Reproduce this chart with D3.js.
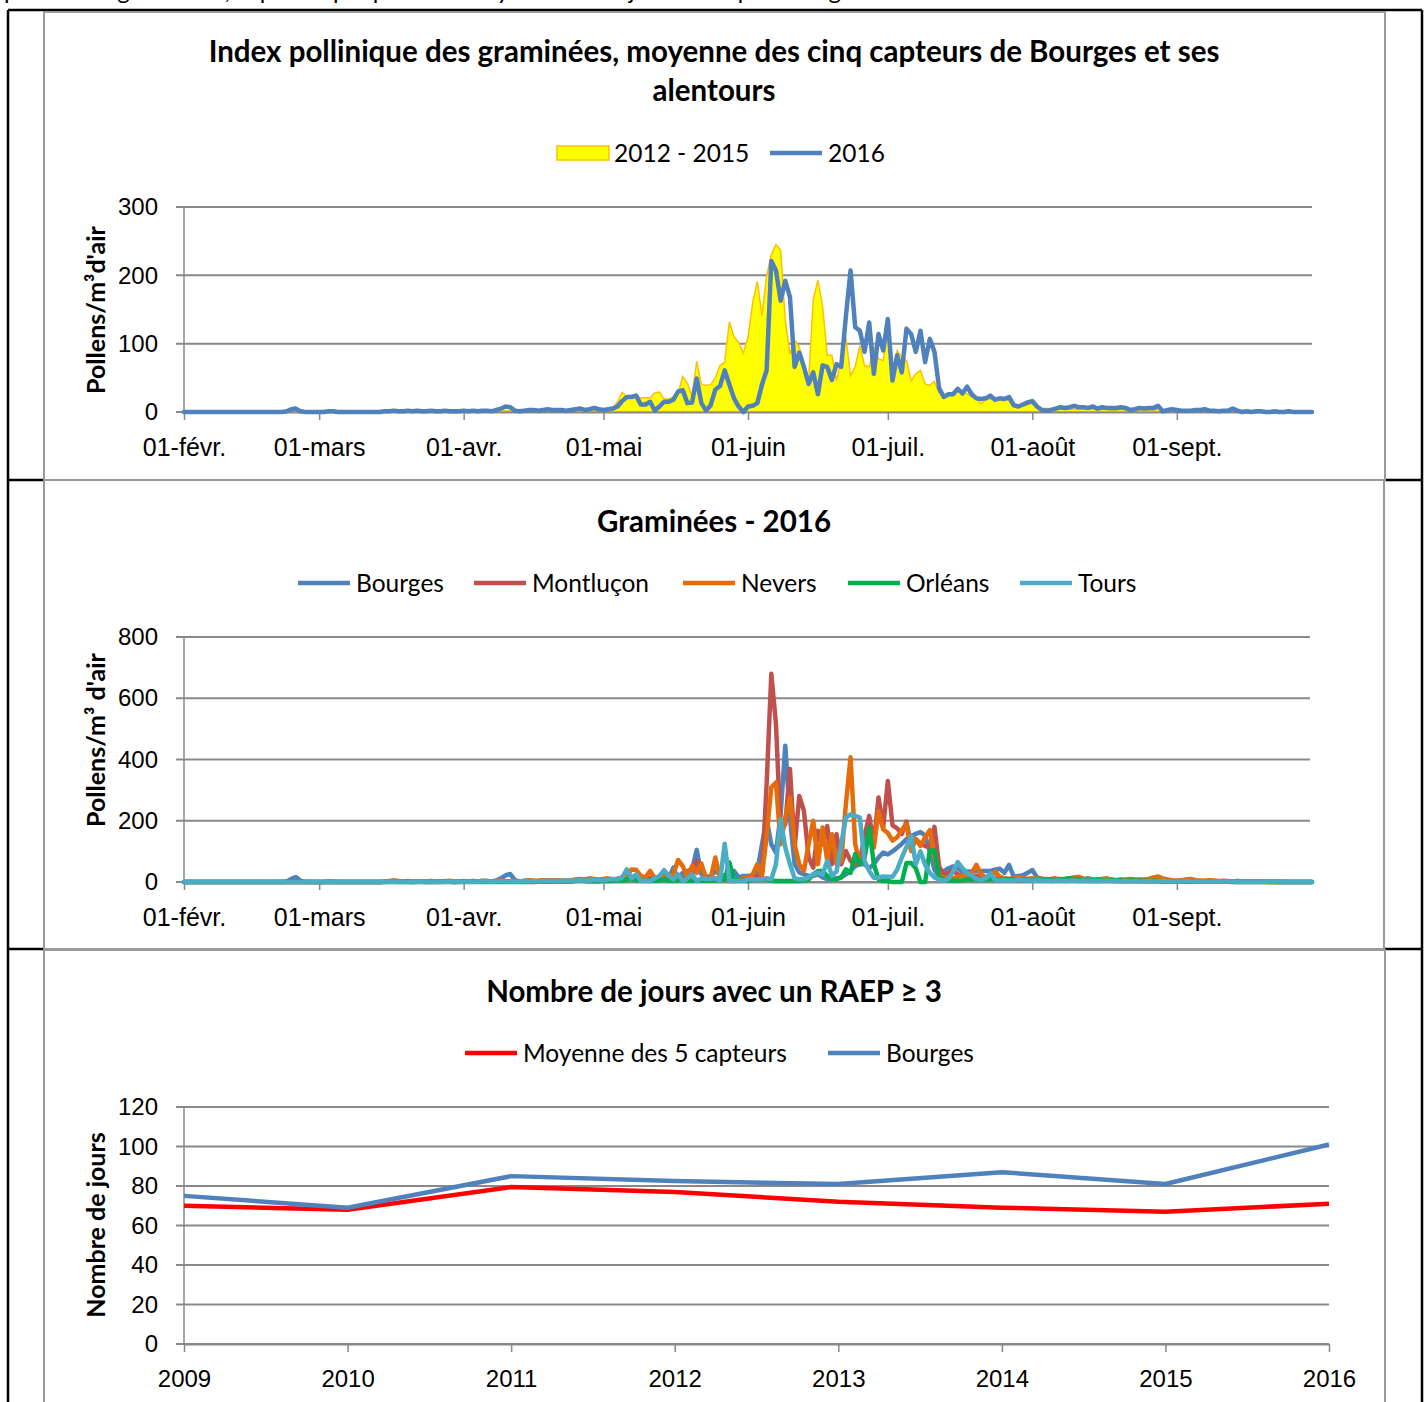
<!DOCTYPE html>
<html>
<head>
<meta charset="utf-8">
<script src="https://cdn.jsdelivr.net/npm/d3@7"></script>
<style>
body { margin: 0; background: #fff; }
svg { display: block; font-family: Lato, "Open Sans", sans-serif; }
</style>
</head>
<body>
<div id="chart"></div>
<script>
// ---- data (daily values from 1 Feb to 30 Sep 2016) ----
const mean1215 = [
  0,0,0,0,0,0,0,0,0,0, 0,0,0,0,0,0,0,0,0,0, 0,0,0,0,0,0,0,0,0,                 // feb
  0,0,0,0,0,0,0,0,0,0, 0,0,0,0,0,0,0,0,0,0, 0,0,0,0,0,0,0,0,0,0, 0,             // mar
  0,0,0,0,0,1,1,1,1,2, 2,2,2,2,2,2,2,3,3,3, 3,3,2,3,3,3,3,3,3,2,                // apr
  2,3,6,15,29,22,23,21,21,21, 21,28,29,19,19,22,27,52,42,24, 74,40,39,40,50,68,73,132,110,102, 86,
  109,160,191,141,199,230,245,237,134,85, 105,95,70,45,165,193,155,83,83,46, 80,109,53,66,97,68,66,95,78,75,
  120,61,90,80,75,46,56,61,41,39, 45,27,24,26,29,32,30,27,22,19, 12,18,19,18,19,18,17,7,8,9, 11,
  12,8,6,5,5,4,4,4,5,4, 4,5,4,4,3,4,4,3,3,4, 3,3,3,4,3,3,3,4,2,2, 2,
  2,2,2,1,2,1,1,1,1,1, 1,1,1,1,0,0,0,0,0,0, 0,0,0,0,0,0,0,0,0,0
];
const mean2016 = [
  0,0,0,0,0,0,0,0,0,0, 0,0,0,0,0,0,0,0,0,0, 0,0,1,4,5,1,0,0,0,
  0,0,1,1,0,0,0,0,0,0, 0,0,0,0,1,1,2,1,1,2, 1,2,1,1,2,1,1,2,1,1, 1,
  2,1,2,1,2,2,1,3,5,8, 7,2,1,2,3,3,2,3,4,3, 3,3,2,3,4,5,3,4,6,4,
  3,4,5,8,16,22,22,24,11,11, 15,2,8,15,15,18,30,32,13,14, 49,13,2,10,33,38,61,40,20,8, 0,
  8,9,13,40,61,221,207,163,192,168, 66,87,66,41,58,26,68,66,47,70, 66,140,207,124,119,88,131,56,114,90,
  136,46,83,58,122,114,88,119,73,107, 88,35,22,26,26,34,27,37,26,20, 19,20,24,18,20,19,22,10,8,11, 14,
  16,8,3,2,3,5,7,6,7,9, 7,7,6,8,5,7,6,6,6,7, 6,3,4,6,5,6,6,9,1,3, 4,
  3,2,2,2,3,3,4,2,2,1, 2,2,5,2,0,1,0,1,1,0, 0,1,0,0,1,0,0,0,0,0
];

const bourges = [
  0,0,0,0,0,0,0,0,0,0, 0,0,0,0,0,0,0,0,0,0, 0,0,2,10,16,4,0,0,0,
  0,0,2,1,0,0,0,0,0,0, 0,0,0,0,1,2,3,1,2,3, 1,2,1,2,3,1,2,3,2,1, 2,
  3,2,3,2,3,3,2,5,12,22, 26,6,2,3,5,4,3,5,6,4, 5,4,3,5,6,8,4,6,9,6,
  5,6,8,10,12,15,10,12,8,10, 12,6,10,15,12,47,8,30,36,40, 105,25,15,20,35,25,20,25,36,15, 20,
  20,22,36,123,205,123,96,221,445,210, 58,31,25,20,20,25,15,9,9,12, 15,25,35,52,58,58,45,58,80,96,
  90,100,112,125,140,150,157,163,152,100, 40,17,35,45,51,45,34,34,34,35, 36,36,36,40,43,30,56,17,20,22, 30,
  39,15,10,8,6,8,10,8,7,6, 8,10,12,8,6,10,8,7,6,8, 6,5,6,8,6,5,4,5,4,3, 4,
  3,4,3,3,4,2,3,3,2,2, 3,2,2,3,1,2,1,1,2,1, 1,1,0,1,0,0,0,0,0,0
];
const montlucon = [
  0,0,0,0,0,0,0,0,0,0, 0,0,0,0,0,0,0,0,0,0, 0,0,0,0,0,0,0,0,0,
  0,0,0,0,0,0,0,0,0,0, 0,0,0,0,1,2,4,2,1,1, 0,1,1,0,1,0,1,2,1,0, 1,
  1,1,2,1,2,1,2,2,3,2, 1,2,1,2,3,2,2,3,2,3, 3,2,3,3,4,5,8,6,5,6,
  5,6,8,10,12,14,18,12,8,10, 12,8,10,12,10,14,10,15,12,20, 69,52,15,10,12,8,10,8,6,8, 10,
  14,20,20,25,320,680,516,167,189,369, 112,281,232,80,47,167,123,183,58,156, 58,101,69,58,69,150,216,123,276,178,
  330,185,175,157,197,118,140,125,118,112, 180,51,22,30,39,25,20,18,15,20, 18,15,12,14,10,12,8,10,8,6, 8,
  8,6,5,6,5,4,6,5,4,5, 4,5,6,4,3,4,5,4,3,4, 3,4,3,3,4,3,2,3,2,2, 2,
  2,2,2,1,2,1,1,2,1,1, 1,1,1,0,1,0,0,0,0,0, 0,0,0,0,0,0,0,0,0,0
];
const nevers = [
  0,0,0,0,0,0,0,0,0,0, 0,0,0,0,0,0,0,0,0,0, 0,0,0,0,0,0,0,0,0,
  0,0,0,0,0,0,0,0,0,0, 0,0,0,0,1,3,5,3,1,1, 1,2,1,1,3,2,1,2,4,2, 1,
  2,1,3,2,4,3,2,3,5,3, 2,3,2,4,5,3,4,6,5,4, 6,5,4,6,8,10,8,12,10,8,
  10,12,8,10,15,20,41,40,20,15, 36,12,15,25,20,25,72,52,15,52, 30,60,5,12,80,12,8,5,3,5, 12,
  14,25,58,20,150,309,325,123,210,276, 123,58,36,123,200,58,178,69,156,58, 69,254,407,123,58,80,167,112,232,172,
  160,135,146,170,190,101,140,118,146,169, 80,25,12,15,12,18,20,15,30,56, 25,15,20,34,18,12,10,12,15,12, 11,
  12,10,11,8,10,12,8,10,12,15, 17,10,8,6,8,10,12,8,6,5, 8,10,8,6,8,10,15,18,12,8, 6,
  5,6,8,10,6,5,4,6,5,3, 4,3,2,3,2,2,1,2,1,1, 0,1,0,0,0,0,0,0,0,0
];
const orleans = [
  0,0,0,0,0,0,0,0,0,0, 0,0,0,0,0,0,0,0,0,0, 0,0,0,0,0,0,0,0,0,
  0,0,0,0,0,0,0,0,0,0, 0,0,0,0,0,0,0,0,0,0, 0,0,0,0,0,0,0,0,0,0, 0,
  0,0,0,0,0,0,0,0,0,0, 0,0,0,0,0,0,1,1,1,2, 2,1,2,2,3,5,3,2,3,2,
  3,3,4,5,5,8,10,6,5,4, 5,4,6,8,5,4,6,8,5,4, 6,5,4,5,6,5,8,64,8,5, 4,
  3,9,9,9,9,5,3,3,3,3, 3,3,5,8,25,36,36,20,9,9, 15,41,30,91,58,80,178,58,9,3,
  3,0,0,0,62,62,45,0,0,103, 103,15,8,6,4,5,6,8,10,8, 6,8,10,8,6,8,10,8,6,8, 8,
  5,6,8,10,8,6,8,10,12,10, 8,6,5,6,8,6,5,4,6,5, 4,5,6,5,4,3,4,3,2,3, 2,
  2,3,2,2,3,2,1,2,1,1, 1,1,0,1,0,0,0,0,0,0, 0,0,0,0,0,0,0,0,0,0
];
const tours = [
  0,0,0,0,0,0,0,0,0,0, 0,0,0,0,0,0,0,0,0,0, 0,0,0,0,0,0,0,0,0,
  0,0,0,0,0,0,0,0,0,0, 0,0,0,0,0,1,1,0,0,1, 0,1,1,0,1,1,0,1,1,0, 1,
  1,1,2,1,2,2,1,2,3,2, 2,1,2,3,2,3,2,3,4,3, 4,3,4,5,4,6,5,4,8,6,
  5,8,10,8,15,41,12,25,3,3, 3,12,20,39,20,8,25,3,12,25, 3,12,10,10,12,3,125,3,3,3, 3,
  9,9,9,9,12,9,58,205,112,58, 12,9,9,15,25,30,25,69,20,35, 123,210,221,216,210,69,36,14,14,18,
  17,17,40,80,115,150,58,100,56,30, 15,8,5,10,34,65,45,30,20,10, 6,12,28,8,3,6,4,5,8,5, 6,
  3,5,4,5,3,4,5,3,4,5, 3,4,3,4,3,3,4,3,3,2, 3,2,3,2,2,3,2,2,3,2, 2,
  2,2,3,2,2,2,2,2,2,2, 2,2,2,1,2,1,1,1,1,1, 1,1,1,0,0,0,0,0,0,0
];

const stations = ["Bourges", "Montluçon", "Nevers", "Orléans", "Tours"];
const stationValues = [bourges, montlucon, nevers, orleans, tours];
const stationColors = ["#4F81BD", "#C0504D", "#E46C0A", "#00B050", "#4BACC6"];

const monthLabels = ["01-févr.", "01-mars", "01-avr.", "01-mai", "01-juin", "01-juil.", "01-août", "01-sept."];

const years = [2009, 2010, 2011, 2012, 2013, 2014, 2015, 2016];
const raepMean = [70, 68, 79.5, 77, 72, 69, 67, 71];
const raepBourges = [75, 69, 85, 82.5, 81, 87, 81, 101];

// ---- setup ----
const width = 1428;
const height = 1402;
const gridColor = "#898989";

const svg = d3.select("#chart")
  .append("svg")
    .attr("width", width)
    .attr("height", height);

const days = d3.timeDays(new Date(2016, 1, 1), new Date(2016, 9, 1));
const monthStarts = d3.timeMonths(new Date(2016, 1, 1), new Date(2016, 8, 2));

const xTime = d3.scaleTime()
  .domain([new Date(2016, 1, 1), new Date(2016, 8, 30)])
  .range([184, 1312]);

// line of text above the table, cut by the top of the page
svg.append("text")
  .attr("x", 4).attr("y", -1)
  .attr("font-size", 24)
  .text("pollens de graminées, capteurs par période et synthèse des jours à risque en région");

// table borders
svg.append("g").attr("stroke", "#000").attr("stroke-width", 2.5).selectAll("line")
  .data([[8, 10, 1422, 10], [8, 10, 8, 1402], [1422, 10, 1422, 1402], [8, 480, 1422, 480], [8, 949, 1422, 949]])
  .join("line")
    .attr("x1", d => d[0]).attr("y1", d => d[1]).attr("x2", d => d[2]).attr("y2", d => d[3]);

// chart areas
svg.append("g").selectAll("rect")
  .data([[44, 12, 1341, 468], [44, 480, 1340, 469], [44, 950, 1341, 470]])
  .join("rect")
    .attr("x", d => d[0]).attr("y", d => d[1]).attr("width", d => d[2]).attr("height", d => d[3])
    .attr("fill", "#fff").attr("stroke", "#9a9a9a").attr("stroke-width", 2);

function title(lines, y0, step) {
  svg.append("text")
    .attr("text-anchor", "middle")
    .attr("font-size", 29.5).attr("font-weight", "bold")
    .selectAll("tspan").data(lines).join("tspan")
      .attr("x", 714).attr("y", (d, i) => y0 + i * step)
      .text(d => d);
}

function yTitle(text, cy) {
  svg.append("text")
    .attr("transform", "translate(105," + cy + ") rotate(-90)")
    .attr("text-anchor", "middle")
    .attr("font-size", 25).attr("font-weight", "bold")
    .text(text);
}

function legendLine(x, y, color, label) {
  svg.append("line")
    .attr("x1", x).attr("x2", x + 52).attr("y1", y).attr("y2", y)
    .attr("stroke", color).attr("stroke-width", 4.5);
  svg.append("text")
    .attr("x", x + 58).attr("y", y + 8.5)
    .attr("font-size", 24.5)
    .text(label);
}

function grid(yScale, ticks, xRight) {
  svg.append("g").selectAll("line").data(ticks).join("line")
    .attr("x1", 176).attr("x2", xRight)
    .attr("y1", d => yScale(d)).attr("y2", d => yScale(d))
    .attr("stroke", gridColor).attr("stroke-width", 2);
  svg.append("line")
    .attr("x1", 184).attr("x2", 184)
    .attr("y1", yScale(ticks[ticks.length - 1])).attr("y2", yScale(0))
    .attr("stroke", gridColor).attr("stroke-width", 1.5);
  const ax = svg.append("g")
    .attr("transform", "translate(184,0)")
    .call(d3.axisLeft(yScale).tickValues(ticks).tickSize(0).tickPadding(26));
  ax.select(".domain").remove();
  ax.selectAll("text").attr("font-size", 24).attr("font-family", null).attr("fill", "#000");
}

function timeAxis(yScale) {
  const ax = svg.append("g")
    .attr("transform", "translate(0," + yScale(0) + ")")
    .call(d3.axisBottom(xTime).tickValues(monthStarts).tickSize(8).tickPadding(18)
      .tickFormat((d, i) => monthLabels[i]).tickSizeOuter(0));
  ax.select(".domain").attr("stroke", gridColor).attr("stroke-width", 2);
  ax.selectAll("line").attr("stroke", gridColor).attr("stroke-width", 1.5);
  ax.selectAll("text").attr("font-size", 25).attr("font-family", null).attr("fill", "#000");
}

// ---- chart 1 ----
title(["Index pollinique des graminées, moyenne des cinq capteurs de Bourges et ses", "alentours"], 62, 39);

svg.append("rect")
  .attr("x", 557).attr("y", 146).attr("width", 52).attr("height", 14)
  .attr("fill", "#FFFF00").attr("stroke", "#FFC000").attr("stroke-width", 1.5);
svg.append("text").attr("x", 614).attr("y", 161.5).attr("font-size", 24.5).text("2012 - 2015");
legendLine(770, 153, "#4F81BD", "2016");

const y1 = d3.scaleLinear().domain([0, 300]).range([412, 207]);
grid(y1, [0, 100, 200, 300], 1312);

svg.append("path")
  .datum(mean1215)
  .attr("fill", "#FFFF00")
  .attr("stroke", "#FFC000").attr("stroke-width", 1.5)
  .attr("d", d3.area().x((d, i) => xTime(days[i])).y0(y1(0)).y1(d => y1(d)));

timeAxis(y1);

svg.append("path")
  .datum(mean2016)
  .attr("fill", "none")
  .attr("stroke", "#4F81BD").attr("stroke-width", 4.5)
  .attr("stroke-linejoin", "round").attr("stroke-linecap", "round")
  .attr("d", d3.line().x((d, i) => xTime(days[i])).y(d => y1(d)));

yTitle("Pollens/m³d'air", 310);

// ---- chart 2 ----
title(["Graminées - 2016"], 532, 0);
const legendX2 = [298, 474, 683, 848, 1020];
stations.forEach((s, i) => legendLine(legendX2[i], 583, stationColors[i], s));

const y2 = d3.scaleLinear().domain([0, 800]).range([882, 637]);
grid(y2, [0, 200, 400, 600, 800], 1310);
timeAxis(y2);

stationValues.forEach((vals, i) => {
  svg.append("path")
    .datum(vals)
    .attr("fill", "none")
    .attr("stroke", stationColors[i]).attr("stroke-width", 4.5)
    .attr("stroke-linejoin", "round").attr("stroke-linecap", "round")
    .attr("d", d3.line().x((d, j) => xTime(days[j])).y(d => y2(d)));
});

yTitle("Pollens/m³ d'air", 740);

// ---- chart 3 ----
title(["Nombre de jours avec un RAEP ≥ 3"], 1002, 0);
legendLine(465, 1053, "#FF0000", "Moyenne des 5 capteurs");
legendLine(828, 1053, "#4F81BD", "Bourges");

const x3 = d3.scalePoint().domain(years).range([184, 1329]);
const y3 = d3.scaleLinear().domain([0, 120]).range([1344, 1107]);
grid(y3, [0, 20, 40, 60, 80, 100, 120], 1329);

const ax3 = svg.append("g")
  .attr("transform", "translate(0," + y3(0) + ")")
  .call(d3.axisBottom(x3).tickSize(8).tickPadding(18).tickSizeOuter(0));
ax3.select(".domain").attr("stroke", gridColor).attr("stroke-width", 2);
ax3.selectAll("line").attr("stroke", gridColor).attr("stroke-width", 1.5);
ax3.selectAll("text").attr("font-size", 24).attr("font-family", null).attr("fill", "#000");

[[raepMean, "#FF0000"], [raepBourges, "#4F81BD"]].forEach(([vals, color]) => {
  svg.append("path")
    .datum(vals)
    .attr("fill", "none")
    .attr("stroke", color).attr("stroke-width", 4.5)
    .attr("stroke-linejoin", "round")
    .attr("d", d3.line().x((d, i) => x3(years[i])).y(d => y3(d)));
});

yTitle("Nombre de jours", 1225);
</script>
</body>
</html>
